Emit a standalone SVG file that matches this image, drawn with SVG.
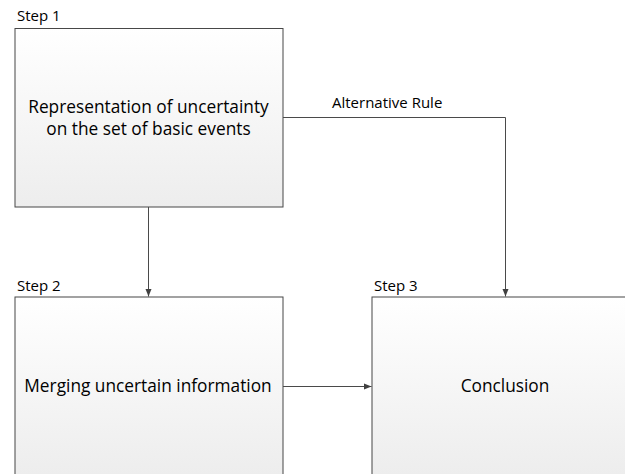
<svg xmlns="http://www.w3.org/2000/svg" width="625" height="474" viewBox="0 0 625 474">
<style>
.box{stroke:#474747;stroke-width:1;fill:url(#g)}
.lbl{font-family:"Open Sans","Liberation Sans",Arial,sans-serif;font-size:15px;fill:#000}
.main{font-family:"Open Sans","Liberation Sans",Arial,sans-serif;font-size:17.3px;fill:#000;text-anchor:middle}
.conn{stroke:#4a4a4a;stroke-width:1;fill:none;marker-end:url(#ah)}
</style>
<defs>
<linearGradient id="g" x1="0" y1="0" x2="0" y2="1">
<stop offset="0" stop-color="#ffffff"/>
<stop offset="1" stop-color="#ededed"/>
</linearGradient>
<marker id="ah" viewBox="0 0 10 10" refX="10" refY="5" markerWidth="8" markerHeight="8" markerUnits="userSpaceOnUse" orient="auto">
<path d="M0,1 L10,5 L0,9 Z" fill="#404040"/>
</marker>
</defs>
<rect width="625" height="474" fill="#ffffff"/>
<g id="step1">
<rect class="box" x="15" y="28.5" width="268" height="178.5"/>
<text class="lbl" x="17" y="20.5">Step 1</text>
<text class="main" x="148.5" y="113">Representation of uncertainty</text>
<text class="main" x="148.5" y="135">on the set of basic events</text>
</g>
<g id="step2">
<rect class="box" x="15" y="297" width="268" height="178.5"/>
<text class="lbl" x="17" y="290.5">Step 2</text>
<text class="main" x="148" y="391.5">Merging uncertain information</text>
</g>
<g id="step3">
<rect class="box" x="372" y="297" width="268" height="178.5"/>
<text class="lbl" x="374" y="290.5">Step 3</text>
<text class="main" x="505" y="391.5">Conclusion</text>
</g>
<g id="connectors">
<path class="conn" d="M148.5,207 L148.5,296.5"/>
<path class="conn" d="M283,117.5 L505.5,117.5 L505.5,296.5"/>
<text class="lbl" x="332" y="108">Alternative Rule</text>
<path class="conn" d="M283,386.5 L371.5,386.5"/>
</g>
</svg>
